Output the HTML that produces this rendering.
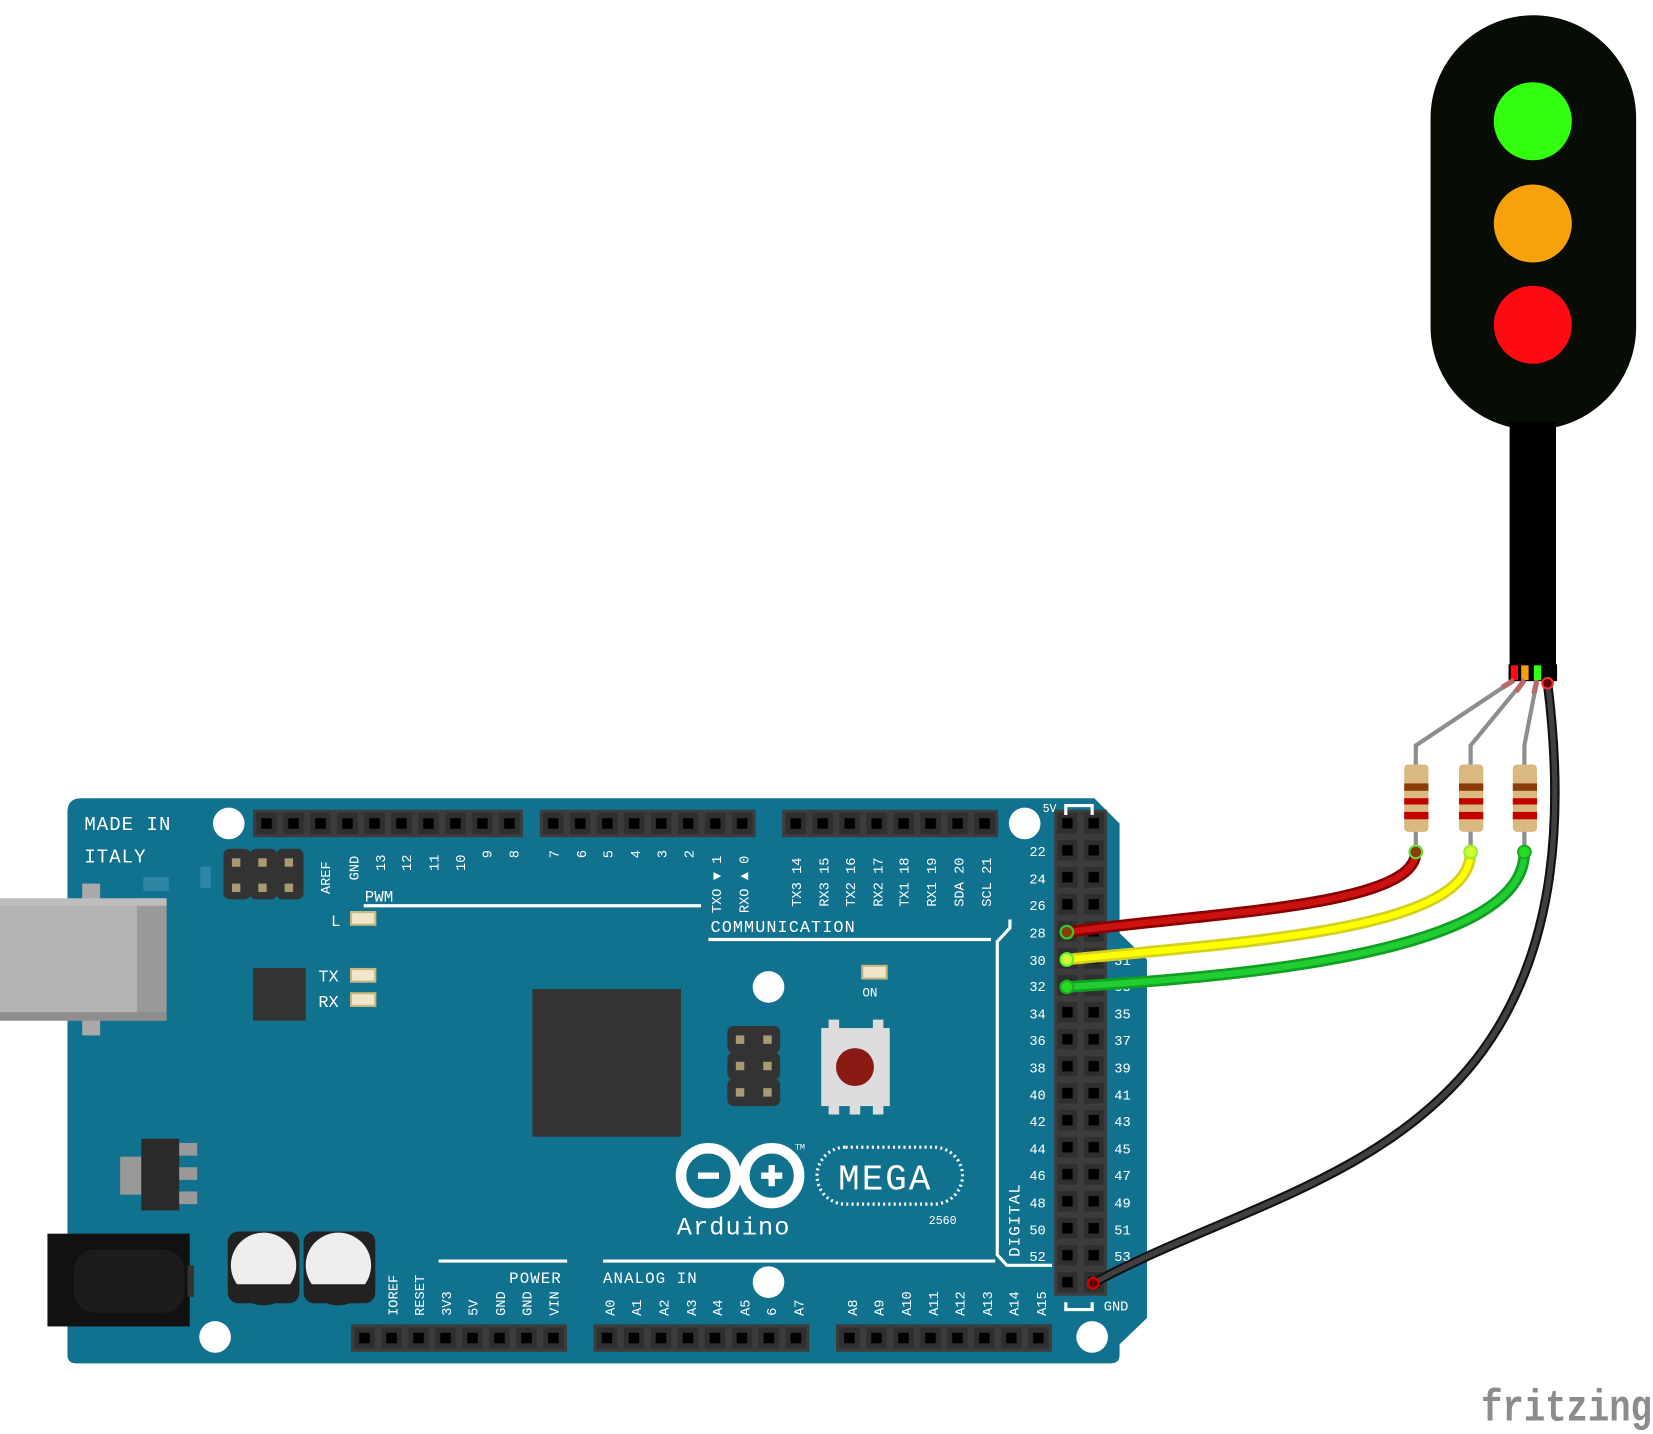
<!DOCTYPE html>
<html><head><meta charset="utf-8"><style>
html,body{margin:0;padding:0;background:#fff}
svg{display:block}
text{font-family:"Liberation Mono",monospace;fill:#fff}
</style></head><body>
<svg width="1653" height="1434" viewBox="0 0 1568 1360" preserveAspectRatio="none" xmlns="http://www.w3.org/2000/svg">
<defs>
<pattern id="hp" x="0" y="0" width="25.6" height="26" patternUnits="userSpaceOnUse">
<rect width="25.6" height="26" fill="#3c3c3c"/><rect x="3" y="3" width="19.6" height="20" fill="#2f2f2f"/><rect x="7.8" y="8" width="10" height="10" fill="#000"/></pattern>
<pattern id="vp" x="0" y="0" width="25" height="25.6" patternUnits="userSpaceOnUse">
<rect width="25" height="25.6" fill="#3c3c3c"/><rect x="3" y="3" width="19" height="19.6" fill="#2f2f2f"/><rect x="7.5" y="7.8" width="10" height="10" fill="#000"/></pattern>
</defs>

<!-- board -->
<path d="M64,770 Q64,757 77,757 L1038,757 L1062,781 L1062,885 L1088,910 L1088,1250 L1062,1275 L1062,1285 Q1062,1293 1054,1293 L72,1293 Q64,1293 64,1285 Z" fill="#11728f"/>

<!-- USB -->
<rect x="78" y="838" width="17" height="144" fill="#a9a9a9"/>
<rect x="0" y="852" width="158" height="116" fill="#b3b3b3"/>
<rect x="130" y="852" width="28" height="116" fill="#999"/>
<rect x="0" y="852" width="158" height="7" fill="#bdbdbd"/>
<rect x="0" y="960" width="158" height="8" fill="#8d8d8d"/>
<rect x="136" y="832" width="24" height="13" fill="#2e87a2"/>
<rect x="190" y="822" width="10" height="20" fill="#2e87a2"/>

<!-- power jack -->
<rect x="45" y="1170" width="135" height="88" fill="#111"/>
<rect x="70" y="1185" width="105" height="60" rx="20" fill="#1c1c1c"/>
<rect x="178" y="1200" width="6" height="30" fill="#333"/>
<!-- regulator -->
<rect x="114" y="1097" width="22" height="36" fill="#999"/>
<rect x="134" y="1080" width="36" height="68" fill="#2a2a2a"/>
<rect x="170" y="1084" width="17" height="12" fill="#999"/>
<rect x="170" y="1107" width="17" height="12" fill="#999"/>
<rect x="170" y="1130" width="17" height="12" fill="#999"/>
<!-- caps -->
<g><rect x="216" y="1168" width="68" height="68" rx="10" fill="#222"/><circle cx="250" cy="1200" r="31" fill="#eee"/><path d="M221,1218 A31,31 0 0 0 279,1218 Z" fill="#222"/></g>
<g><rect x="288" y="1168" width="68" height="68" rx="10" fill="#222"/><circle cx="321" cy="1200" r="31" fill="#eee"/><path d="M292,1218 A31,31 0 0 0 350,1218 Z" fill="#222"/></g>

<!-- chips -->
<rect x="240" y="918" width="50" height="50" fill="#333"/>
<rect x="505" y="938" width="141" height="140" fill="#333"/>

<!-- ICSP 1 -->
<g fill="#333"><rect x="212" y="805" width="26" height="48" rx="6"/><rect x="237" y="805" width="26" height="48" rx="6"/><rect x="262" y="805" width="26" height="48" rx="6"/></g>
<g fill="#a89a72"><rect x="220" y="814" width="8" height="8"/><rect x="245" y="814" width="8" height="8"/><rect x="270" y="814" width="8" height="8"/><rect x="220" y="838" width="8" height="8"/><rect x="245" y="838" width="8" height="8"/><rect x="270" y="838" width="8" height="8"/></g>
<!-- ICSP 2 -->
<g fill="#333"><rect x="690" y="973" width="50" height="26" rx="6"/><rect x="690" y="998" width="50" height="26" rx="6"/><rect x="690" y="1023" width="50" height="26" rx="6"/></g>
<g fill="#a89a72"><rect x="698" y="982" width="8" height="8"/><rect x="724" y="982" width="8" height="8"/><rect x="698" y="1007" width="8" height="8"/><rect x="724" y="1007" width="8" height="8"/><rect x="698" y="1032" width="8" height="8"/><rect x="724" y="1032" width="8" height="8"/></g>

<!-- reset -->
<rect x="786" y="967" width="10" height="10" fill="#ddd"/><rect x="828" y="967" width="10" height="10" fill="#ddd"/>
<rect x="779" y="975" width="65" height="74" fill="#ddd"/>
<rect x="786" y="1047" width="10" height="10" fill="#ddd"/><rect x="806" y="1047" width="10" height="10" fill="#ddd"/><rect x="828" y="1047" width="10" height="10" fill="#ddd"/>
<circle cx="811" cy="1012" r="18" fill="#8a1a14"/>

<!-- LEDs -->
<g fill="#efe6cc" stroke="#c9b77d" stroke-width="2"><rect x="333" y="865" width="23" height="12"/><rect x="333" y="919" width="23" height="12"/><rect x="333" y="942" width="23" height="12"/><rect x="818" y="916" width="23" height="12"/></g>

<!-- holes -->
<g fill="#fff"><circle cx="217" cy="781" r="15"/><circle cx="972" cy="781" r="15"/><circle cx="729" cy="936" r="15"/><circle cx="204" cy="1268" r="15"/><circle cx="729" cy="1216" r="15"/><circle cx="1036" cy="1268" r="15"/></g>

<!-- headers -->
<g transform="translate(240,768)"><rect width="256" height="26" fill="url(#hp)"/></g>
<g transform="translate(512,768)"><rect width="204.8" height="26" fill="url(#hp)"/></g>
<g transform="translate(742,768)"><rect width="204.8" height="26" fill="url(#hp)"/></g>
<g transform="translate(333,1256)"><rect width="204.8" height="26" fill="url(#hp)"/></g>
<g transform="translate(563,1256)"><rect width="204.8" height="26" fill="url(#hp)"/></g>
<g transform="translate(793,1256)"><rect width="204.8" height="26" fill="url(#hp)"/></g>
<g transform="translate(1000,768)"><rect width="50" height="460.8" fill="url(#vp)"/></g>

<!-- lines -->
<g stroke="#fff" stroke-width="3" fill="none">
<line x1="345" y1="859" x2="665" y2="859"/>
<line x1="672" y1="891" x2="940" y2="891"/>
<polyline points="958,872 958,880 946,893 946,1190 955,1200 998,1200"/>
<line x1="416" y1="1196" x2="538" y2="1196"/>
<line x1="572" y1="1196" x2="944" y2="1196"/>
<polyline points="1011,773 1011,764 1036,764 1036,773"/>
<polyline points="1011,1235 1011,1242 1036,1242 1036,1235"/>
</g>

<!-- texts -->
<text x="80" y="787" font-size="18" letter-spacing="1">MADE IN</text>
<text x="80" y="818" font-size="18" letter-spacing="1">ITALY</text>
<text x="346" y="855" font-size="15">PWM</text>
<text x="314" y="878" font-size="15">L</text>
<text x="302" y="931" font-size="16">TX</text>
<text x="302" y="955" font-size="16">RX</text>
<text x="818" y="945" font-size="12">ON</text>
<text x="674" y="884" font-size="16" letter-spacing="1">COMMUNICATION</text>
<text x="483" y="1217" font-size="15" letter-spacing="1">POWER</text>
<text x="572" y="1217" font-size="15" letter-spacing="1">ANALOG IN</text>
<text x="989" y="770" font-size="11">5V</text>
<text x="1047" y="1243" font-size="13">GND</text>
<text x="881" y="1161" font-size="11">2560</text>
<text x="642" y="1171" font-size="24" letter-spacing="1">Arduino</text>
<text x="754" y="1090" font-size="8">TM</text>
<rect x="775" y="1088" width="138" height="54" rx="27" fill="none" stroke="#fff" stroke-width="3" stroke-dasharray="2 3"/>
<text x="795" y="1128" font-size="34" letter-spacing="2">MEGA</text>
<!-- logo -->
<g fill="none" stroke="#fff" stroke-width="10"><circle cx="672" cy="1115" r="26"/><circle cx="732" cy="1115" r="26"/></g>
<g fill="#fff"><rect x="662" y="1112" width="20" height="6"/><rect x="722" y="1112" width="20" height="6"/><rect x="729" y="1105" width="6" height="20"/></g>

<!-- top rotated labels -->
<g font-size="13">
<text transform="translate(313,848) rotate(-90)">AREF</text>
<text transform="translate(340,835) rotate(-90)">GND</text>
<text transform="translate(365,826) rotate(-90)">13</text>
<text transform="translate(390,826) rotate(-90)">12</text>
<text transform="translate(416,826) rotate(-90)">11</text>
<text transform="translate(441,826) rotate(-90)">10</text>
<text transform="translate(466,814) rotate(-90)">9</text>
<text transform="translate(492,814) rotate(-90)">8</text>
<text transform="translate(530,814) rotate(-90)">7</text>
<text transform="translate(556,814) rotate(-90)">6</text>
<text transform="translate(581,814) rotate(-90)">5</text>
<text transform="translate(607,814) rotate(-90)">4</text>
<text transform="translate(632,814) rotate(-90)">3</text>
<text transform="translate(658,814) rotate(-90)">2</text>
<text transform="translate(684,866) rotate(-90)">TXO ▼ 1</text>
<text transform="translate(710,866) rotate(-90)">RXO ▲ 0</text>
<text transform="translate(760,860) rotate(-90)">TX3 14</text>
<text transform="translate(786,860) rotate(-90)">RX3 15</text>
<text transform="translate(811,860) rotate(-90)">TX2 16</text>
<text transform="translate(837,860) rotate(-90)">RX2 17</text>
<text transform="translate(862,860) rotate(-90)">TX1 18</text>
<text transform="translate(888,860) rotate(-90)">RX1 19</text>
<text transform="translate(914,860) rotate(-90)">SDA 20</text>
<text transform="translate(940,860) rotate(-90)">SCL 21</text>
<!-- bottom -->
<text transform="translate(377,1248) rotate(-90)">IOREF</text>
<text transform="translate(402,1248) rotate(-90)">RESET</text>
<text transform="translate(428,1248) rotate(-90)">3V3</text>
<text transform="translate(453,1248) rotate(-90)">5V</text>
<text transform="translate(479,1248) rotate(-90)">GND</text>
<text transform="translate(504,1248) rotate(-90)">GND</text>
<text transform="translate(530,1248) rotate(-90)">VIN</text>
<text transform="translate(583,1248) rotate(-90)">A0</text>
<text transform="translate(608,1248) rotate(-90)">A1</text>
<text transform="translate(634,1248) rotate(-90)">A2</text>
<text transform="translate(660,1248) rotate(-90)">A3</text>
<text transform="translate(685,1248) rotate(-90)">A4</text>
<text transform="translate(711,1248) rotate(-90)">A5</text>
<text transform="translate(736,1248) rotate(-90)">6</text>
<text transform="translate(762,1248) rotate(-90)">A7</text>
<text transform="translate(813,1248) rotate(-90)">A8</text>
<text transform="translate(838,1248) rotate(-90)">A9</text>
<text transform="translate(864,1248) rotate(-90)">A10</text>
<text transform="translate(890,1248) rotate(-90)">A11</text>
<text transform="translate(915,1248) rotate(-90)">A12</text>
<text transform="translate(941,1248) rotate(-90)">A13</text>
<text transform="translate(966,1248) rotate(-90)">A14</text>
<text transform="translate(992,1248) rotate(-90)">A15</text>
<text transform="translate(967,1192) rotate(-90)" font-size="15" letter-spacing="1">DIGITAL</text>
</g>
<!-- right side labels -->
<g font-size="13" text-anchor="end">
<text x="992" y="812">22</text><text x="992" y="838">24</text><text x="992" y="863">26</text><text x="992" y="889">28</text><text x="992" y="915">30</text><text x="992" y="940">32</text><text x="992" y="966">34</text><text x="992" y="991">36</text><text x="992" y="1017">38</text><text x="992" y="1043">40</text><text x="992" y="1068">42</text><text x="992" y="1094">44</text><text x="992" y="1119">46</text><text x="992" y="1145">48</text><text x="992" y="1171">50</text><text x="992" y="1196">52</text>
</g>
<g font-size="13">
<text x="1057" y="915">31</text><text x="1057" y="940">33</text><text x="1057" y="966">35</text><text x="1057" y="991">37</text><text x="1057" y="1017">39</text><text x="1057" y="1043">41</text><text x="1057" y="1068">43</text><text x="1057" y="1094">45</text><text x="1057" y="1119">47</text><text x="1057" y="1145">49</text><text x="1057" y="1171">51</text><text x="1057" y="1196">53</text>
</g>

<!-- traffic light -->
<path d="M1357,112 A97.5,97.5 0 0 1 1552,112 L1552,310 A97.5,97.5 0 0 1 1357,310 Z" fill="#070c04"/>
<rect x="1432" y="400" width="44" height="232" fill="#000"/>
<circle cx="1454" cy="115" r="37" fill="#33ff11"/>
<circle cx="1454" cy="212" r="37" fill="#f7a10d"/>
<circle cx="1454" cy="308" r="37" fill="#ff0a12"/>
<rect x="1431" y="630" width="46" height="16" fill="#000"/>
<rect x="1433" y="631" width="7" height="14" fill="#ff0a12"/>
<rect x="1443" y="631" width="7" height="14" fill="#f7a10d"/>
<rect x="1455" y="631" width="7" height="14" fill="#33ff11"/>

<!-- resistor leads -->
<g stroke="#8e8e8e" stroke-width="4" fill="none">
<polyline points="1436,645 1343,707 1343,730"/>
<polyline points="1446,645 1395,707 1395,730"/>
<polyline points="1458,645 1446,707 1446,730"/>
<line x1="1343" y1="788" x2="1343" y2="808"/>
<line x1="1395" y1="788" x2="1395" y2="808"/>
<line x1="1446" y1="788" x2="1446" y2="808"/>
</g>
<g stroke="#b86a6a" stroke-width="5"><line x1="1436" y1="645" x2="1425" y2="652"/><line x1="1446" y1="645" x2="1438" y2="656"/><line x1="1458" y1="645" x2="1455" y2="658"/></g>
<!-- resistors -->
<g id="r">
<rect x="1332" y="725" width="23" height="64" rx="4" fill="#d9b97f"/>
<rect x="1332" y="743" width="23" height="7" fill="#8a3c0a"/>
<rect x="1332" y="757" width="23" height="6" fill="#c40000"/>
<rect x="1332" y="770" width="23" height="7" fill="#c40000"/>
</g>
<use href="#r" x="52"/><use href="#r" x="103"/>

<!-- wires -->
<g fill="none" stroke-linecap="round">
<path d="M1468,648 C1482,760 1482,900 1400,1005 C1310,1120 1160,1150 1037,1217" stroke="#111" stroke-width="9"/>
<path d="M1468,648 C1482,760 1482,900 1400,1005 C1310,1120 1160,1150 1037,1217" stroke="#404040" stroke-width="5"/>
<path d="M1343,808 C1343,860 1150,865 1012,884" stroke="#8a0000" stroke-width="11"/>
<path d="M1343,808 C1343,860 1150,865 1012,884" stroke="#cc1111" stroke-width="6"/>
<path d="M1395,808 C1395,880 1200,892 1012,910" stroke="#d4d020" stroke-width="11"/>
<path d="M1395,808 C1395,880 1200,892 1012,910" stroke="#ffff00" stroke-width="6"/>
<path d="M1446,808 C1446,900 1200,925 1012,936" stroke="#0fa020" stroke-width="11"/>
<path d="M1446,808 C1446,900 1200,925 1012,936" stroke="#22cc33" stroke-width="6"/>
</g>
<g stroke-width="2"><circle cx="1012" cy="884" r="6" fill="#8a3c0a" stroke="#33cc33"/><circle cx="1012" cy="910" r="6" fill="#ccff33" stroke="#66ee33"/><circle cx="1012" cy="936" r="6" fill="#22dd22" stroke="#22aa22"/><circle cx="1037" cy="1217" r="5" fill="#600" stroke="#d00"/><circle cx="1468" cy="648" r="5" fill="#600" stroke="#e33"/><circle cx="1343" cy="808" r="6" fill="#8a3c0a" stroke="#66dd33"/><circle cx="1395" cy="808" r="6" fill="#ccff33" stroke="#99ee33"/><circle cx="1446" cy="808" r="6" fill="#22dd22" stroke="#22aa22"/></g>

<!-- fritzing -->
<text x="1405" y="1347" font-size="42" textLength="162" lengthAdjust="spacingAndGlyphs" style="fill:#8c8c8c;font-family:'Liberation Mono',monospace;font-weight:bold">fritzing</text>
</svg>
</body></html>
